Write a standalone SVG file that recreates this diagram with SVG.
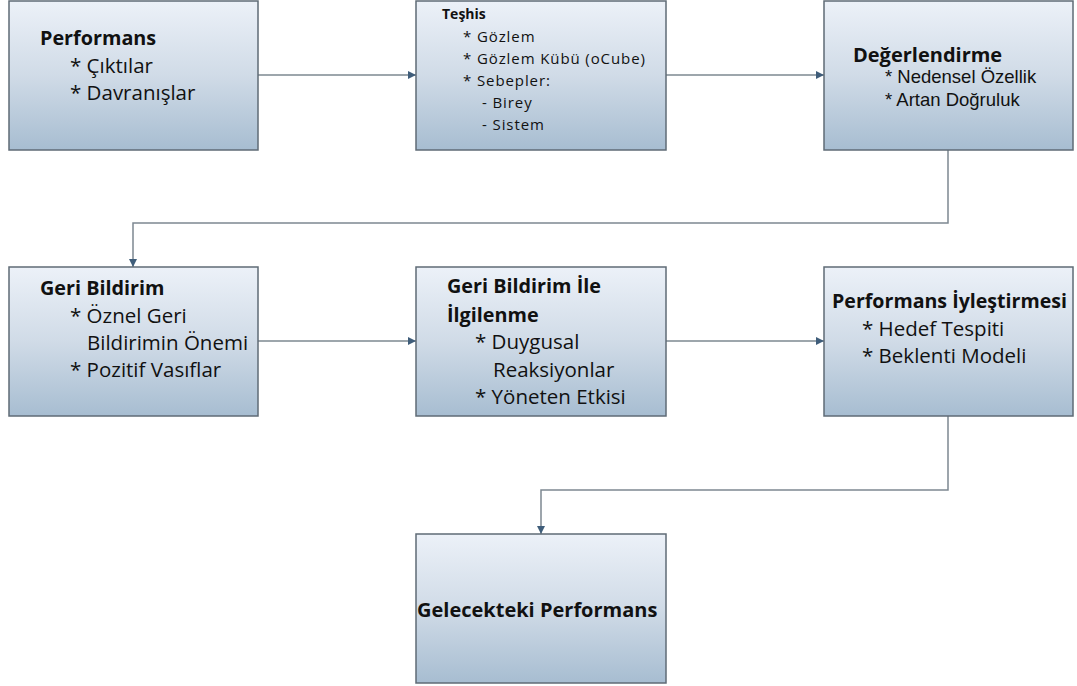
<svg xmlns="http://www.w3.org/2000/svg" width="1077" height="686" viewBox="0 0 1077 686">
<defs>
<linearGradient id="g" x1="0" y1="0" x2="0" y2="1">
<stop offset="0" stop-color="#ecf1f8"/>
<stop offset="0.5" stop-color="#d0dbe7"/>
<stop offset="1" stop-color="#a7bdd1"/>
</linearGradient>
<marker id="ah" viewBox="0 0 10 10" refX="10" refY="5" markerWidth="10" markerHeight="8" markerUnits="userSpaceOnUse" orient="auto">
<path d="M0,0 L10,5 L0,10 z" fill="#3f5d7a"/>
</marker>
<style>
.box{fill:url(#g);stroke:#5f6b76;stroke-width:1.5}
.t{font-family:"Open Sans",Lato,sans-serif;fill:#111}
.b{font-weight:bold;font-size:19.8px}
.r{font-size:20.5px}
.s{font-size:15px;letter-spacing:0.9px}
.a{font-family:"Liberation Sans",Arial,sans-serif;fill:#111;font-size:18.5px}
.c{fill:none;stroke:#7d8891;stroke-width:1.5}
</style>
</defs>
<rect width="1077" height="686" fill="#fff"/>
<g id="connectors">
<path class="c" d="M258,75 H416" marker-end="url(#ah)"/>
<path class="c" d="M666,75 H824" marker-end="url(#ah)"/>
<path class="c" d="M948,150 V223 H133 V267" marker-end="url(#ah)"/>
<path class="c" d="M258,341 H416" marker-end="url(#ah)"/>
<path class="c" d="M666,341 H824" marker-end="url(#ah)"/>
<path class="c" d="M948,416 V490 H541 V534" marker-end="url(#ah)"/>
</g>
<g id="performans">
<rect class="box" x="9" y="1" width="249" height="149"/>
<text class="t b" x="40" y="45">Performans</text>
<text class="t r" x="70" y="73">* Çıktılar</text>
<text class="t r" x="70" y="100">* Davranışlar</text>
</g>
<g id="teshis">
<rect class="box" x="416" y="1" width="250" height="149"/>
<text class="t b" x="442" y="19" style="font-size:14px">Teşhis</text>
<text class="t s" x="463" y="42">* Gözlem</text>
<text class="t s" x="463" y="64">* Gözlem Kübü (oCube)</text>
<text class="t s" x="463" y="86">* Sebepler:</text>
<text class="t s" x="482" y="108">- Birey</text>
<text class="t s" x="482" y="130">- Sistem</text>
</g>
<g id="degerlendirme">
<rect class="box" x="824" y="1" width="249" height="149"/>
<text class="t b" x="853" y="62" style="font-size:20px">Değerlendirme</text>
<text class="a" x="885" y="83">* Nedensel Özellik</text>
<text class="a" x="885" y="106">* Artan Doğruluk</text>
</g>
<g id="geri-bildirim">
<rect class="box" x="9" y="267" width="249" height="149"/>
<text class="t b" x="40" y="295">Geri Bildirim</text>
<text class="t r" x="70" y="323">* Öznel Geri</text>
<text class="t r" x="87" y="350">Bildirimin Önemi</text>
<text class="t r" x="70" y="377">* Pozitif Vasıflar</text>
</g>
<g id="ilgilenme">
<rect class="box" x="416" y="267" width="250" height="149"/>
<text class="t b" x="447" y="293">Geri Bildirim İle</text>
<text class="t b" x="447" y="322">İlgilenme</text>
<text class="t r" x="475" y="349">* Duygusal</text>
<text class="t r" x="493" y="377">Reaksiyonlar</text>
<text class="t r" x="475" y="404">* Yöneten Etkisi</text>
</g>
<g id="iyilestirme">
<rect class="box" x="824" y="267" width="249" height="149"/>
<text class="t b" x="832" y="308" style="font-size:19.6px">Performans İyleştirmesi</text>
<text class="t r" x="862" y="336">* Hedef Tespiti</text>
<text class="t r" x="862" y="363">* Beklenti Modeli</text>
</g>
<g id="gelecek">
<rect class="box" x="416" y="534" width="250" height="149"/>
<text class="t b" x="417" y="617" style="font-size:20px">Gelecekteki Performans</text>
</g>
</svg>
